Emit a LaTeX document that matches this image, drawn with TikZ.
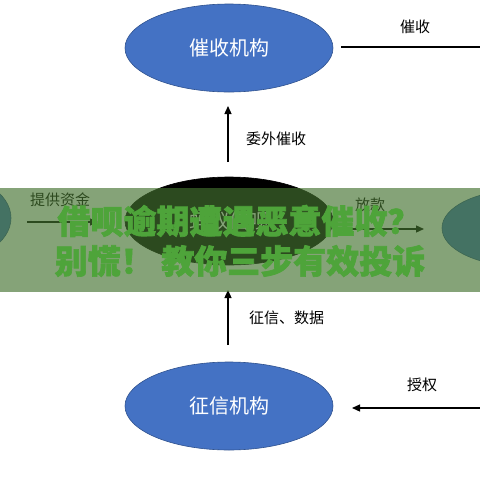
\documentclass[tikz,border=0pt]{standalone}
\usepackage{fontspec}
\setmainfont{Noto Sans CJK SC}
\newfontfamily\heavytitle{Noto Sans CJK SC}[BoldFeatures={FakeBold=2}]
\usetikzlibrary{arrows.meta,calc,shapes.geometric}
\definecolor{nodeblue}{RGB}{68,114,196}
\definecolor{nodeedge}{RGB}{47,82,143}
\definecolor{bannergreen}{RGB}{69,114,48}
\definecolor{titlegreen}{RGB}{78,164,58}
\tikzset{
  entity/.style={ellipse, draw=nodeedge, line width=0.6pt, fill=nodeblue, text=white, font=\fontsize{20}{24}\selectfont, inner sep=0pt},
  lbl/.style={font=\fontsize{15}{18}\selectfont, text=black, inner sep=0pt},
  flow/.style={line width=1.3pt, -{Triangle[length=8pt,width=7pt]}},
  plain/.style={line width=1.3pt},
  title/.style={font=\heavytitle\bfseries\fontsize{33}{40}\selectfont, text=titlegreen, inner sep=0pt}
}
\begin{document}
\begin{tikzpicture}[x=1pt,y=-1pt]
\useasboundingbox (0,0) rectangle (480,480);
\fill[white] (0,0) rectangle (480,480);
% nodes
\node[entity, minimum width=208pt, minimum height=88pt] (collect) at (229,48) {催收机构};
\node[entity, draw=black, fill=black, minimum width=208pt, minimum height=88pt] (platform) at (229,221) {蚂蚁借呗};
\node[entity, minimum width=208pt, minimum height=88pt] (credit) at (229,406) {征信机构};
\node[entity, minimum width=142pt, minimum height=90pt] (fund) at (-60,218) {};
\node[entity, minimum width=156pt, minimum height=76pt] (user) at (520,228) {};
% connectors
\coordinate (c1) at (228,162); \coordinate (c2) at (228,106);
\draw[flow] (c1) -- (c2);
\node[lbl, anchor=west] (l1) at (246,139) {委外催收};
\coordinate (c3) at (228,345); \coordinate (c4) at (228,290);
\draw[flow] (c3) -- (c4);
\node[lbl, anchor=west] (l2) at (249,318) {征信、数据};
\coordinate (c5) at (341,47); \coordinate (c6) at (480,47);
\draw[plain] (c5) -- (c6);
\node[lbl] (l3) at (415,27) {催收};
\coordinate (c7) at (480,408); \coordinate (c8) at (352,408);
\draw[flow] (c7) -- (c8);
\node[lbl] (l4) at (422,385) {授权};
\coordinate (c9) at (27,222); \coordinate (c10) at (98,222);
\draw[flow] (c9) -- (c10);
\node[lbl, anchor=west] (l5) at (30,200) {提供资金};
\coordinate (c11) at (340,229); \coordinate (c12) at (424,229);
\draw[flow] (c11) -- (c12);
\node[lbl] (l6) at (370,205) {放款};
% banner
\fill[bannergreen, fill opacity=0.65] (0,188) rectangle (480,292);
\node[title] (t1) at (239,221) {借呗逾期遭遇恶意催收？};
\node[title] (t2) at (240,261) {别慌！ 教你三步有效投诉};
\end{tikzpicture}
\end{document}
